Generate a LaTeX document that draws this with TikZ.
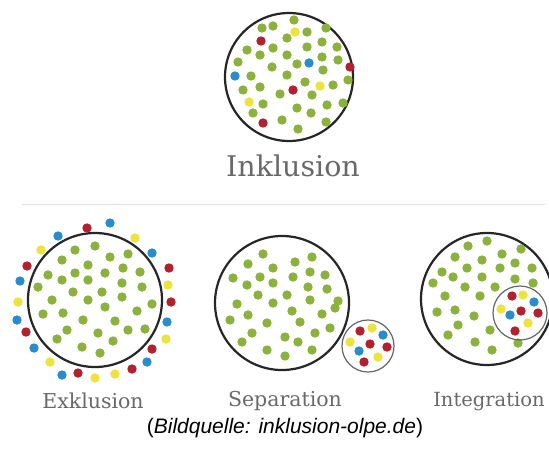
\documentclass[tikz,border=0pt]{standalone}
\usepackage{fontspec}
\newfontfamily\srcfont{Liberation Sans}
\newfontfamily\namefont{DejaVu Serif}
\definecolor{dotgreen}{RGB}{140,178,62}
\definecolor{dotred}{RGB}{178,34,46}
\definecolor{dotblue}{RGB}{40,140,205}
\definecolor{dotyellow}{RGB}{238,226,60}
\definecolor{namegray}{RGB}{105,105,105}

\begin{document}
\begin{tikzpicture}[x=1pt,y=-1pt,
    ring/.style={line width=2.2pt, draw=black!85},
    smallring/.style={line width=1.2pt, draw=black!60},
    groupname/.style={text=namegray, font=\namefont\fontsize{20.5}{24}\selectfont}]
    % Page frame
    \fill[white] (0,0) rectangle (549,448);
    \useasboundingbox (0,0) rectangle (549,448);

    % Inklusion: all dots mixed inside one circle
    \draw[ring] (289,77) circle (64);
    \foreach \x/\y in {294/20,262/28,273/26,307/32,326/28,287/38,273/48,307/47,322/42,
        337/47,247/50,260/55,287/55,322/57,338/60,238/62,272/67,297/64,323/70,
        251/76,287/75,348/80,243/90,260/87,280/94,305/82,333/85,312/95,263/104,
        297/108,327/105,343/103,253/113,282/120,311/113,326/122,298/129} {
        \fill[dotgreen] (\x,\y) circle (4.7);
    }
    \foreach \x/\y in {261/41,350/67,293/90,263/123} \fill[dotred] (\x,\y) circle (4.7);
    \foreach \x/\y in {309/63,235/76} \fill[dotblue] (\x,\y) circle (4.7);
    \foreach \x/\y in {295/32,320/86,249/102} \fill[dotyellow] (\x,\y) circle (4.7);
    \node[groupname, font=\namefont\fontsize{28.5}{32}\selectfont] (inkl) at (293,166) {Inklusion};

    % Separator
    \draw[black!12, line width=1pt] (22,204) -- (545,204);

    % Exklusion: coloured dots stay outside
    \draw[ring] (95,300) circle (67);
    \foreach \x/\y in {95/246,75/250,110/257,128/254,62/260,88/265,48/275,123/268,
        140/272,75/273,105/273,62/280,88/280,38/287,122/283,142/287,73/292,102/292,
        52/300,88/300,122/297,152/304,105/307,137/311,43/314,63/313,83/320,115/321,
        67/330,98/333,128/330,145/329,57/339,113/341,82/347,100/353} {
        \fill[dotgreen] (\x,\y) circle (4.7);
    }
    \foreach \x/\y in {87/228,27/266,169/268,171/302,26/332,152/349,132/369,78/373}
        \fill[dotred] (\x,\y) circle (4.7);
    \foreach \x/\y in {110/223,58/236,152/253,20/281,17/320,167/322,34/348,147/362,62/375}
        \fill[dotblue] (\x,\y) circle (4.7);
    \foreach \x/\y in {135/238,41/250,168/285,18/302,166/339,50/362,95/378,115/374}
        \fill[dotyellow] (\x,\y) circle (4.7);
    \node[groupname] (exkl) at (93,401) {Exklusion};

    % Separation: coloured dots in a circle of their own
    \draw[ring] (282,303) circle (67);
    \foreach \x/\y in {263/254,312/257,248/264,295/262,273/268,310/272,325/275,233/278,
        260/277,293/277,247/285,273/283,308/287,327/289,258/295,287/295,310/300,
        338/301,237/304,273/303,292/311,335/308,248/315,322/314,230/320,267/323,
        300/322,330/328,252/333,285/337,315/333,242/342,298/342,267/350,312/350,285/356} {
        \fill[dotgreen] (\x,\y) circle (4.7);
    }
    \draw[smallring, fill=white] (368,346) circle (26);
    \foreach \x/\y in {360/331,370/344,387/347,364/362} \fill[dotred] (\x,\y) circle (4.7);
    \foreach \x/\y in {383/335,359/351} \fill[dotblue] (\x,\y) circle (4.7);
    \foreach \x/\y in {372/328,350/342,378/357} \fill[dotyellow] (\x,\y) circle (4.7);
    \node[groupname] (sep) at (285,401) {Separation};

    % Integration: small circle inside the big one
    \draw[ring] (487,299) circle (66);
    \foreach \x/\y in {487/241,468/246,521/249,455/257,502/254,482/260,515/263,442/272,
        467/268,500/268,532/268,453/277,482/277,515/279,433/283,465/287,495/287,
        533/283,445/296,480/296,437/312,455/310,474/316,458/325,490/330,448/335,
        475/342,492/350,518/343} {
        \fill[dotgreen] (\x,\y) circle (4.7);
    }
    \draw[smallring] (520,313) circle (27);
    \foreach \x/\y in {512/296,521/311,538/313,515/331} \fill[dotred] (\x,\y) circle (4.7);
    \foreach \x/\y in {534/302,510/315} \fill[dotblue] (\x,\y) circle (4.7);
    \foreach \x/\y in {523/295,501/309,528/323} \fill[dotyellow] (\x,\y) circle (4.7);
    \node[groupname, font=\namefont\fontsize{19.5}{23}\selectfont, inner xsep=0pt] (integ)
        at (489,401) {Integration};

    % Source line
    \node[font=\srcfont\fontsize{21}{24}\selectfont] (src) at (285,428)
        {(\textit{Bildquelle: inklusion-olpe.de})};
\end{tikzpicture}
\end{document}
